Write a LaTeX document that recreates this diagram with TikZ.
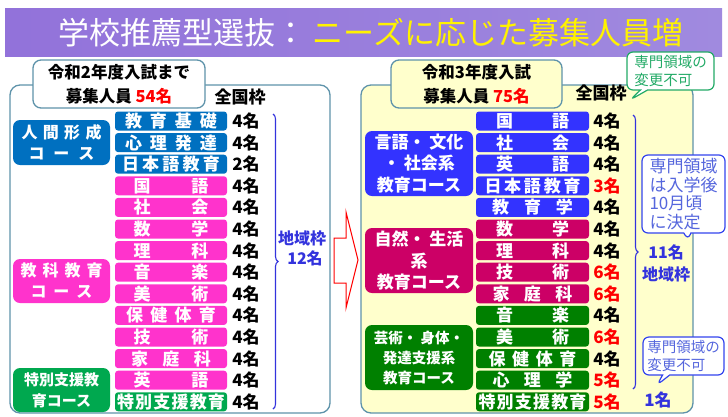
\documentclass[tikz,border=0pt]{standalone}
\usepackage{fontspec}
\setmainfont{Noto Sans CJK JP}
\usetikzlibrary{shapes.callouts,decorations.pathreplacing}
\definecolor{lblue}{HTML}{0070C0}
\definecolor{lpink}{HTML}{FF33CC}
\definecolor{lgreen}{HTML}{00A84F}
\definecolor{rblue}{HTML}{3333FF}
\definecolor{rcrim}{HTML}{CC0066}
\definecolor{rgreen}{HTML}{008000}
\definecolor{panelc}{HTML}{5E93AA}
\definecolor{ryellow}{HTML}{FFFFCC}
\definecolor{bracec}{HTML}{3333DD}
\definecolor{callg}{HTML}{22AA66}
\definecolor{callb}{HTML}{3344EE}
\definecolor{callbt}{HTML}{5566DD}
\definecolor{bannL}{HTML}{9272DA}
\definecolor{bannM}{HTML}{BBABEC}
\definecolor{bannR}{HTML}{A08ADF}
\newcommand\fsz[2]{\fontsize{#1}{#2}\selectfont}
\newcommand\spr[2]{\makebox[#1pt][s]{#2}}
\tikzset{
  rowbox/.style={rounded corners=3pt, minimum width=112pt, minimum height=19pt, inner sep=0pt, text=white, font=\fsz{17}{17}\bfseries},
  cntlab/.style={inner sep=0pt, font=\fsz{17}{17}\bfseries},
  catbox/.style={rounded corners=7pt, inner sep=0pt, text=white, align=center},
  panelbox/.style={draw=panelc, line width=1.3pt, rounded corners=10pt, inner sep=0pt},
  hdrbox/.style={draw=panelc, line width=1.3pt, rounded corners=8pt, inner sep=0pt, minimum height=48pt, align=center, font=\fsz{16.5}{24}\bfseries},
  bluelab/.style={inner sep=0pt, text=bracec, font=\fsz{16}{20}\bfseries},
  bracestyle/.style={draw=bracec, line width=1.1pt, decorate, decoration={brace, amplitude=5pt}},
  callbox/.style={rectangle callout, rounded corners=6pt, fill=white, line width=1.2pt, align=left, inner sep=3pt}
}
\begin{document}
\begin{tikzpicture}[x=1pt,y=-1pt]
\useasboundingbox (0,0) rectangle (728,416);
% banner
\shade[left color=bannL, middle color=bannM, right color=bannR] (5,8) rectangle (722,56);
\node[inner sep=0pt, font=\fsz{31}{31}] (T) at (371,33) {{\color{white}学校推薦型選抜：}\hspace{6pt}{\color{yellow}ニーズに応じた募集人員増}};
% panels
\node[panelbox, fill=white, minimum width=320pt, minimum height=328pt] (PL) at (170,249) {};
\node[panelbox, fill=ryellow, minimum width=332pt, minimum height=328pt] (PR) at (527,249) {};
% headers
\node[hdrbox, fill=white, minimum width=172pt] (HL) at (119,84) {令和2年度入試まで\\募集人員 {\color{red}54名}};
\node[hdrbox, fill=ryellow, minimum width=171pt] (HR) at (476.5,84) {令和3年度入試\\募集人員 {\color{red}75名}};
\node[cntlab] (ZL) at (240,97) {全国枠};
\node[cntlab] (ZR) at (601,93) {全国枠};
% left rows
\foreach \i/\w/\t/\c/\nn in {
 1/92/{教\hfill{}育\hfill{}基\hfill{}礎}/lblue/4,
 2/92/{心\hfill{}理\hfill{}発\hfill{}達}/lblue/4,
 3/98/{日\hfill{}本\hfill{}語\hfill{}教\hfill{}育}/lblue/2,
 4/75/{国\hfill{}語}/lpink/4,
 5/75/{社\hfill{}会}/lpink/4,
 6/75/{数\hfill{}学}/lpink/4,
 7/75/{理\hfill{}科}/lpink/4,
 8/75/{音\hfill{}楽}/lpink/4,
 9/75/{美\hfill{}術}/lpink/4,
 10/90/{保\hfill{}健\hfill{}体\hfill{}育}/lpink/4,
 11/75/{技\hfill{}術}/lpink/4,
 12/80/{家\hfill{}庭\hfill{}科}/lpink/4,
 13/75/{英\hfill{}語}/lpink/4,
 14/108/{特\hfill{}別\hfill{}支\hfill{}援\hfill{}教\hfill{}育}/lgreen/4}
{
 \pgfmathsetmacro\yy{121+21.6*(\i-1)}
 \node[rowbox, fill=\c] (L\i) at (171,\yy) {\spr{\w}{\t}};
 \node[cntlab] (LN\i) at (246,\yy) {\nn{}名};
}
% right rows
\foreach \i/\w/\t/\c/\nn/\nc in {
 1/73/{国\hfill{}語}/rblue/4/black,
 2/73/{社\hfill{}会}/rblue/4/black,
 3/73/{英\hfill{}語}/rblue/4/black,
 4/96/{日\hfill{}本\hfill{}語\hfill{}教\hfill{}育}/rblue/3/red,
 5/81/{教\hfill{}育\hfill{}学}/rblue/4/black,
 6/73/{数\hfill{}学}/rcrim/4/black,
 7/73/{理\hfill{}科}/rcrim/4/black,
 8/73/{技\hfill{}術}/rcrim/6/red,
 9/80/{家\hfill{}庭\hfill{}科}/rcrim/6/red,
 10/73/{音\hfill{}楽}/rgreen/4/black,
 11/73/{美\hfill{}術}/rgreen/6/red,
 12/88/{保\hfill{}健\hfill{}体\hfill{}育}/rgreen/4/black,
 13/80/{心\hfill{}理\hfill{}学}/rgreen/5/red,
 14/108/{特\hfill{}別\hfill{}支\hfill{}援\hfill{}教\hfill{}育}/rgreen/5/red}
{
 \pgfmathsetmacro\yy{121+21.6*(\i-1)}
 \node[rowbox, fill=\c, minimum width=113pt] (R\i) at (532.5,\yy) {\spr{\w}{\t}};
 \node[cntlab, text=\nc] (RN\i) at (607,\yy) {\nn{}名};
}
% left categories
\node[catbox, fill=lblue, minimum width=97pt, minimum height=45pt, font=\fsz{16}{21}\bfseries] (CL1) at (61.5,142.5)
  {\spr{80}{人\hfill{}間\hfill{}形\hfill{}成}\\\spr{66}{コ\hfill{}ー\hfill{}ス}};
\node[catbox, fill=lpink, minimum width=97pt, minimum height=44pt, font=\fsz{16}{21}\bfseries] (CL2) at (61.5,281)
  {\spr{82}{教\hfill{}科\hfill{}教\hfill{}育}\\\spr{62}{コ\hfill{}ー\hfill{}ス}};
\node[catbox, fill=lgreen, minimum width=97pt, minimum height=44pt, font=\fsz{15}{21}\bfseries] (CL3) at (61.5,390)
  {特別支援教\\育コース};
% right categories
\node[catbox, fill=rblue, minimum width=108pt, minimum height=65pt, font=\fsz{17}{21.5}\bfseries] (CR1) at (419,163.5)
  {言語・ 文化\\・ 社会系\\教育コース};
\node[catbox, fill=rcrim, minimum width=108pt, minimum height=65pt, font=\fsz{17}{21.5}\bfseries] (CR2) at (419,260.5)
  {自然・ 生活\\系\\教育コース};
\node[catbox, fill=rgreen, minimum width=108pt, minimum height=65pt, font=\fsz{14.5}{20}\bfseries] (CR3) at (419,357.5)
  {芸術・ 身体・\\発達支援系\\教育コース};
% braces
\coordinate (BLt) at (273,114);
\coordinate (BLb) at (273,409);
\draw[bracestyle] (BLt) -- (BLb);
\node[bluelab] (LW1) at (302,238) {地域枠};
\node[bluelab] (LW2) at (305,258) {12名};
\coordinate (BRt) at (633,115);
\coordinate (BRb) at (633,389);
\draw[bracestyle] (BRt) -- (BRb);
\node[bluelab] (RW1) at (666,252) {11名};
\node[bluelab] (RW2) at (666,274) {地域枠};
\node[bluelab, font=\fsz{17}{20}\bfseries] (RW3) at (658,400) {1名};
% arrow
\draw[red, fill=white, line width=1pt] (334,238) -- (346,238) -- (346,212) -- (358,260) -- (346,308) -- (346,283) -- (334,283) -- cycle;
% callouts
\coordinate (P1) at (630,100);
\coordinate (P2) at (688,240);
\coordinate (P3) at (657,385);
\node[callbox, draw=callg, text=callg, minimum width=87pt, minimum height=38pt, font=\fsz{14.5}{17.5}, callout absolute pointer={(P1)}] (C1) at (670.5,71) {専門領域の\\変更不可};
\node[callbox, draw=callb, text=callbt, minimum width=83pt, minimum height=78pt, font=\fsz{17}{18.5}, callout absolute pointer={(P2)}] (C2) at (683.5,194) {専門領域\\は入学後\\10月頃\\に決定};
\node[callbox, draw=callb, text=callbt, minimum width=81pt, minimum height=38pt, font=\fsz{14.5}{17.5}, callout absolute pointer={(P3)}] (C3) at (683.5,356) {専門領域の\\変更不可};
\end{tikzpicture}
\end{document}
